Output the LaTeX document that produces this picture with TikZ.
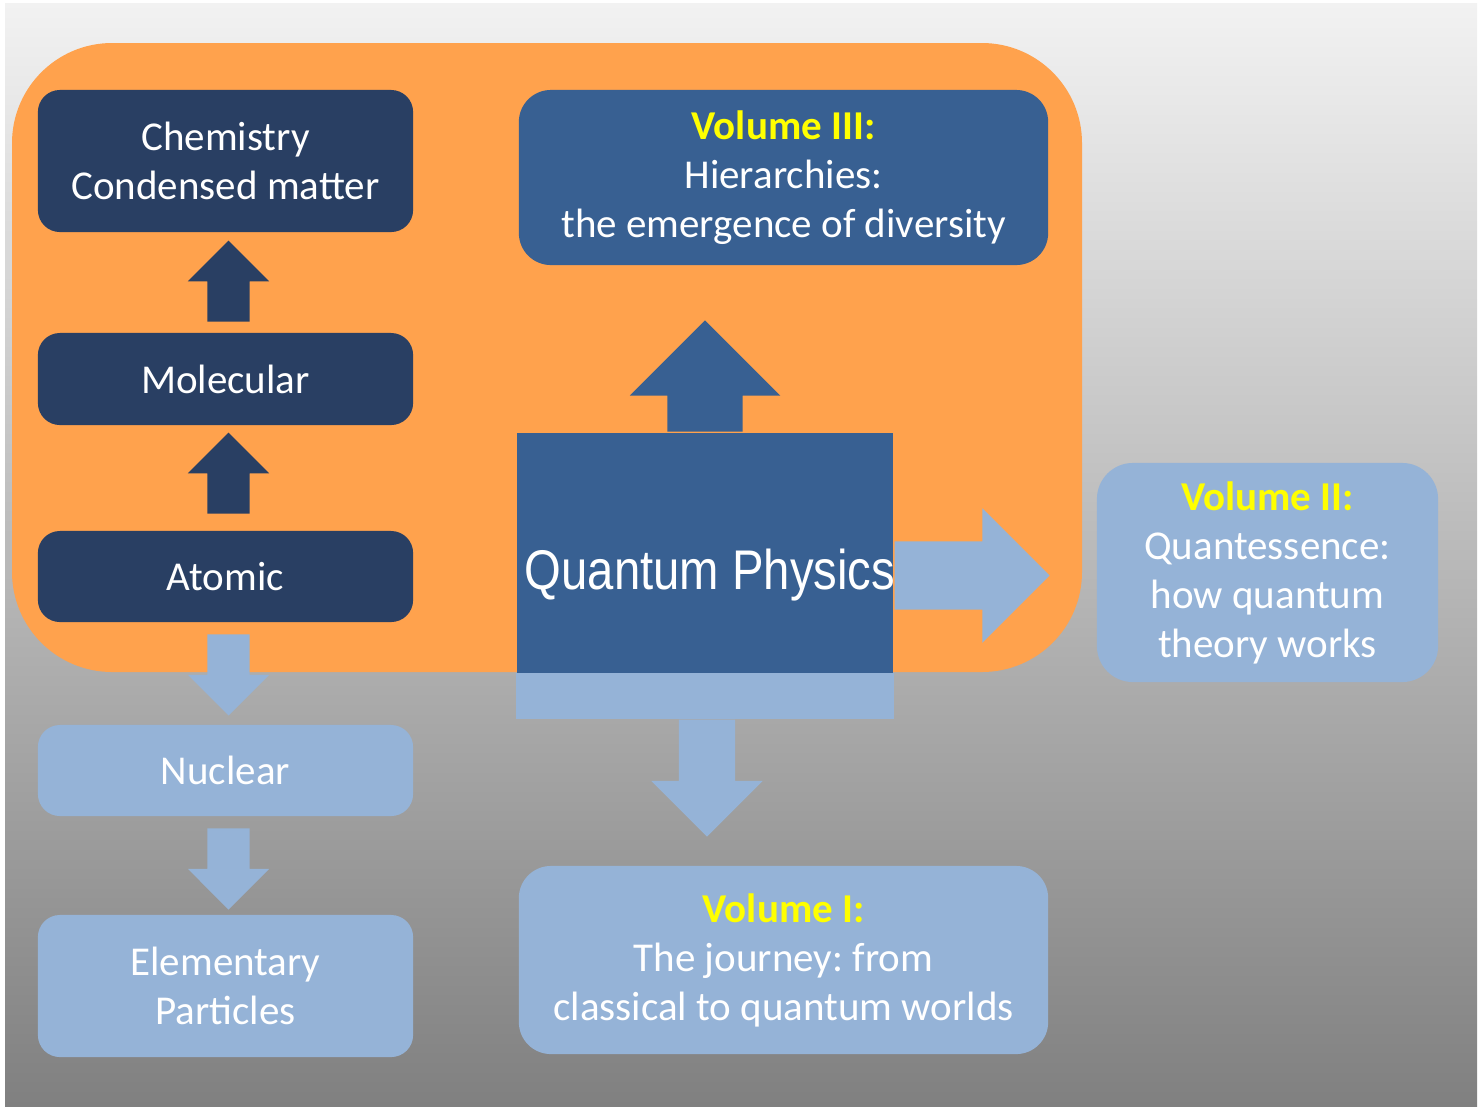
\documentclass[tikz,border=0pt]{standalone}
\usepackage{fontspec}
\setmainfont{Carlito}
\newfontfamily\narrowfont[FakeStretch=0.845]{Liberation Sans}
\usepackage{xcolor}
\usepackage{tikz}
\usetikzlibrary{calc,shapes.arrows}
\definecolor{OrangePanel}{RGB}{255,162,77}
\definecolor{NavyBox}{RGB}{41,63,99}
\definecolor{SteelBox}{RGB}{56,96,146}
\definecolor{SkyBox}{RGB}{149,179,215}
\definecolor{YellowTitle}{RGB}{255,255,0}
\definecolor{GreyTop}{RGB}{242,242,242}
\definecolor{GreyBottom}{RGB}{128,128,128}
\newcommand{\voltitle}[1]{\textcolor{YellowTitle}{\bfseries #1}}
\frenchspacing

\begin{document}
\begin{tikzpicture}[x=0.01cm,y=-0.01cm,
  box/.style={rounded corners=0.22cm,inner sep=0pt,align=center,text=white,
    minimum width=3.75cm,font=\fontsize{11.66}{13.94}\selectfont},
  navybox/.style={box,fill=NavyBox},
  skybox/.style={box,fill=SkyBox},
  volbox/.style={box,rounded corners=0.32cm,minimum width=5.29cm},
  blockarrow/.style={single arrow,inner xsep=0pt,single arrow head indent=0pt,anchor=tail},
  smallarrow/.style={blockarrow,inner ysep=0.205cm,minimum width=0.8cm,
    minimum height=0.81cm,single arrow head extend=0.195cm}]
  \useasboundingbox (0,0) rectangle (1479,1108);
  \shade[top color=GreyTop,bottom color=GreyBottom] (5,3) rectangle (1477,1106);
  \fill[OrangePanel,rounded corners=1cm] (12,43) rectangle (1082,672);

  % left column
  \node[navybox,minimum height=1.42cm] (chem) at (225.5,161) {Chemistry\\Condensed matter};
  \node[navybox,minimum height=0.92cm] (mol) at (225.5,379) {Molecular};
  \node[navybox,minimum height=0.91cm] (atom) at (225.5,576.5) {Atomic};
  \node[skybox,minimum height=0.91cm] (nuc) at (225.5,770.5) {Nuclear};
  \node[skybox,minimum height=1.42cm] (elem) at (225.5,986) {Elementary\\Particles};

  \node[smallarrow,fill=NavyBox,rotate=90] (up1) at ($(mol.north)+(3,-10)$) {};
  \node[smallarrow,fill=NavyBox,rotate=90] (up2) at ($(atom.north)+(3,-16)$) {};
  \node[smallarrow,fill=SkyBox,rotate=-90] (down1) at ($(atom.south)+(3,11)$) {};
  \node[smallarrow,fill=SkyBox,rotate=-90] (down2) at ($(nuc.south)+(3,11)$) {};

  % volumes
  \node[volbox,fill=SteelBox,minimum height=1.75cm] (vol3) at (783.5,177.5)
    {\voltitle{Volume III:}\\Hierarchies:\\the emergence of diversity};
  \node[box,fill=SkyBox,rounded corners=0.36cm,minimum width=3.41cm,minimum height=2.19cm]
    (vol2) at (1267.5,572.5)
    {\voltitle{Volume II:}\\Quantessence:\\how quantum\\theory works};
  \node[volbox,fill=SkyBox,minimum height=1.88cm] (vol1) at (783.5,960)
    {\voltitle{Volume I:}\\The journey: from\\classical to quantum worlds};

  % quantum physics
  \node[fill=SteelBox,inner sep=0pt,minimum width=3.76cm,minimum height=2.85cm,
    text=white,font=\narrowfont\fontsize{15.9}{19}\selectfont] (qp) at (705,575.5)
    {\kern0.05cm Quantum Physics\kern-0.05cm};
  \fill[SkyBox] (qp.south west) rectangle ($(qp.south east)+(0,-46)$);
  \node[blockarrow,fill=SteelBox,rotate=90,minimum height=1.11cm,
    inner ysep=0.37cm,minimum width=1.49cm,single arrow head extend=0.375cm]
    (upqp) at (qp.north) {};
  \node[blockarrow,fill=SkyBox,minimum height=1.55cm,
    inner ysep=0.335cm,minimum width=1.33cm,single arrow head extend=0.33cm]
    (rightqp) at (qp.east) {};
  \node[blockarrow,fill=SkyBox,rotate=-90,minimum height=1.17cm,
    inner ysep=0.275cm,minimum width=1.1cm,single arrow head extend=0.275cm]
    (downqp) at ($(qp.south)+(2,0)$) {};
\end{tikzpicture}
\end{document}
